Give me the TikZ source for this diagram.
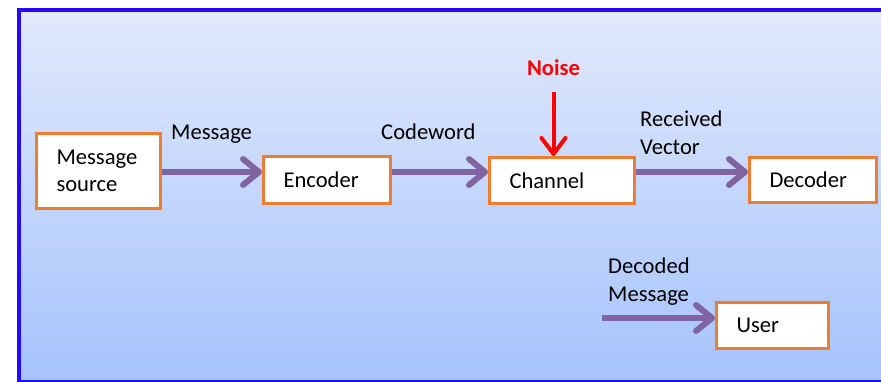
\documentclass[tikz,border=0pt]{standalone}
\usepackage{fontspec}
\setmainfont{Carlito}
\usetikzlibrary{arrows.meta}
\definecolor{frameblue}{RGB}{38,8,250}
\definecolor{bgtop}{RGB}{225,233,252}
\definecolor{bgbot}{RGB}{165,195,252}
\definecolor{boxorange}{RGB}{237,125,49}
\definecolor{flowpurple}{RGB}{128,100,162}
\tikzset{
  box/.style={draw=boxorange, line width=3pt, fill=white, inner xsep=20pt, inner ysep=0pt,
    align=left, font=\fontsize{22.6}{27.5}\selectfont},
  lbl/.style={align=left, inner sep=0pt, font=\fontsize{22.6}{27.5}\selectfont, anchor=base west},
  flow/.style={draw=flowpurple, line width=6pt, -{Straight Barb[length=16pt,width=26pt,round]}},
  noisearrow/.style={draw=red, line width=4pt, -{Straight Barb[length=16pt,width=24pt,round]}},
}
\begin{document}
\begin{tikzpicture}[x=1pt,y=-1pt]
\useasboundingbox (0,0) rectangle (881,381);
\clip (0,0) rectangle (881,381);
\shade[top color=bgtop, bottom color=bgbot] (19,10) rectangle (900,382);
\draw[frameblue, line width=4pt] (19,10) rectangle (900,382);

\node[box, minimum width=124pt, minimum height=75pt, text width=84pt] (ms) at (98.5,171) {Message\\source};
\node[box, minimum width=127pt, minimum height=47pt, text width=87pt] (enc) at (327,180) {Encoder};
\node[box, minimum width=145pt, minimum height=46pt, text width=105pt] (ch) at (562,180.5) {Channel};
\node[box, minimum width=127pt, minimum height=45pt, text width=87pt] (dec) at (813,180) {Decoder};
\node[box, minimum width=112pt, minimum height=46pt, text width=72pt] (user) at (772.5,325.5) {User};

\node[lbl] (lmsg) at (171,139) {Message};
\node[lbl] (lcw) at (381,139) {Codeword};
\node[lbl] (lrv) at (640,154) {Received\\Vector};
\node[lbl] (ldm) at (608,301) {Decoded\\Message};
\node[anchor=base, inner sep=0pt, text=red, font=\fontsize{22.6}{27.5}\selectfont\bfseries] (noise) at (553.5,75) {Noise};

\draw[flow] ([yshift=-1pt]ms.east) -- ([yshift=8pt]enc.west);
\draw[flow] ([yshift=8pt]enc.east) -- ([yshift=8.5pt]ch.west);
\draw[flow] ([yshift=8.5pt]ch.east) -- ([yshift=8pt]dec.west);
\coordinate (dm) at (602,318);
\draw[flow] (dm) -- ([yshift=7.5pt]user.west);
\draw[noisearrow] ([yshift=-17pt]noise.base) -- (noise.base |- ch.north);
\end{tikzpicture}
\end{document}
